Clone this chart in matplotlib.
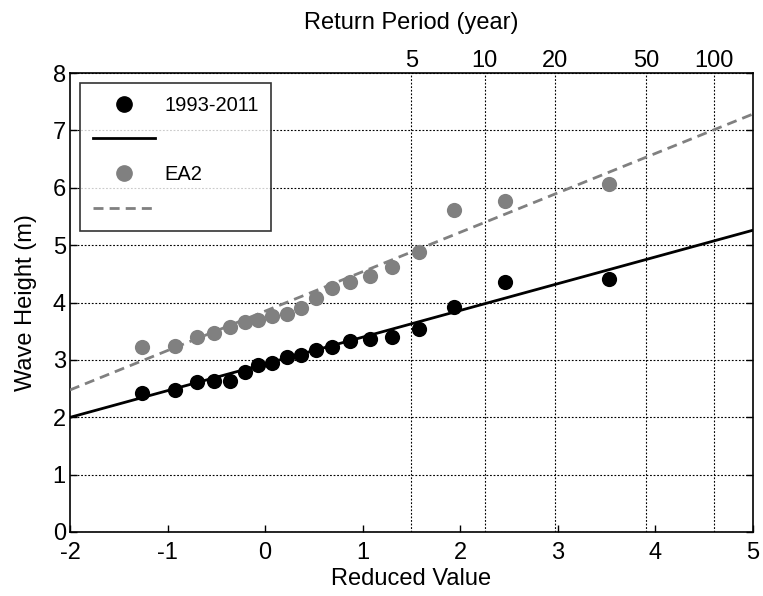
import numpy as np
import matplotlib
matplotlib.use('Agg')
import matplotlib.pyplot as plt
from matplotlib.lines import Line2D

plt.rcParams['font.family'] = ['Liberation Sans', 'DejaVu Sans']
plt.rcParams['axes.unicode_minus'] = False

# Gumbel reduced variate of each ranked annual maximum
reduced = [-1.26, -0.92, -0.70, -0.52, -0.36, -0.21, -0.07, 0.07, 0.22, 0.37,
           0.52, 0.69, 0.87, 1.07, 1.30, 1.58, 1.94, 2.46, 3.52]
# annual max wave height (m)
h_obs = [2.42, 2.47, 2.61, 2.64, 2.64, 2.78, 2.91, 2.94, 3.05, 3.08,
         3.18, 3.22, 3.33, 3.36, 3.39, 3.53, 3.92, 4.36, 4.41]
h_ea2 = [3.23, 3.25, 3.39, 3.47, 3.58, 3.66, 3.70, 3.76, 3.80, 3.90,
         4.07, 4.25, 4.36, 4.46, 4.62, 4.88, 5.61, 5.77, 6.07]

# fitted Gumbel lines: (slope, intercept)
fit_obs = (0.466, 2.93)
fit_ea2 = (0.687, 3.85)

return_periods = [5, 10, 20, 50, 100]

FS = 17
GRAY = '#808080'
grid_style = dict(color='k', linestyle=(0, (1.6, 1.6)), linewidth=0.8)

fig = plt.figure(figsize=(7.63, 5.96), dpi=100)
ax = fig.add_axes([70/763, 64/596, 683/763, 459/596])

xs = np.array([-2.0, 5.0])
ax.scatter(reduced, h_obs, s=120, color='k', zorder=3, linewidths=0)
ax.plot(xs, fit_obs[0]*xs + fit_obs[1], color='k', lw=2, zorder=3)
ax.scatter(reduced, h_ea2, s=120, color=GRAY, zorder=3, linewidths=0)
ax.plot(xs, fit_ea2[0]*xs + fit_ea2[1], color=GRAY, lw=2, dashes=(3.6, 2.2), zorder=3)

ax.set_xlim(-2, 5)
ax.set_ylim(0, 8)
ax.set_xticks(range(-2, 6))
ax.set_yticks(range(0, 9))
ax.tick_params(direction='in', top=True, right=True, length=5, width=1,
               labelsize=FS)
ax.tick_params(axis='x', pad=7)
ax.tick_params(axis='y', pad=3)
ax.yaxis.grid(True, **grid_style)
ax.set_axisbelow(True)
for sp in ax.spines.values():
    sp.set_linewidth(1.2)
ax.set_xlabel('Reduced Value', fontsize=FS, labelpad=3)
ax.set_ylabel('Wave Height (m)', fontsize=FS, labelpad=11)

# return period axis on top
ax2 = ax.twiny()
ax2.set_xlim(ax.get_xlim())
rp = np.array(return_periods, dtype=float)
ax2.set_xticks(-np.log(-np.log(1 - 1/rp)))
ax2.set_xticklabels([str(t) for t in return_periods])
ax2.tick_params(length=0, labelsize=FS, pad=0.5)
ax2.xaxis.grid(True, **grid_style)
ax2.set_axisbelow(True)
for sp in ax2.spines.values():
    sp.set_visible(False)
ax2.set_xlabel('Return Period (year)', fontsize=FS, labelpad=15)
ax2.set_zorder(ax.get_zorder() - 1)
ax.patch.set_visible(False)

handles = [
    Line2D([], [], marker='o', ls='none', color='k', markersize=11),
    Line2D([], [], color='k', lw=2),
    Line2D([], [], marker='o', ls='none', color=GRAY, markersize=11),
    Line2D([], [], color=GRAY, lw=2, dashes=(3.6, 2.2)),
]
labels = ['1993-2011', ' ', 'EA2', ' ']
leg = ax.legend(handles, labels, loc='upper left', fontsize=14.5, frameon=True,
                fancybox=False, edgecolor='k', handlelength=3.1,
                handletextpad=0.45, labelspacing=0.78, borderpad=0.62,
                borderaxespad=0.5)
leg.get_frame().set_linewidth(1.2)

fig.savefig('out.png', dpi=100, facecolor='white')
